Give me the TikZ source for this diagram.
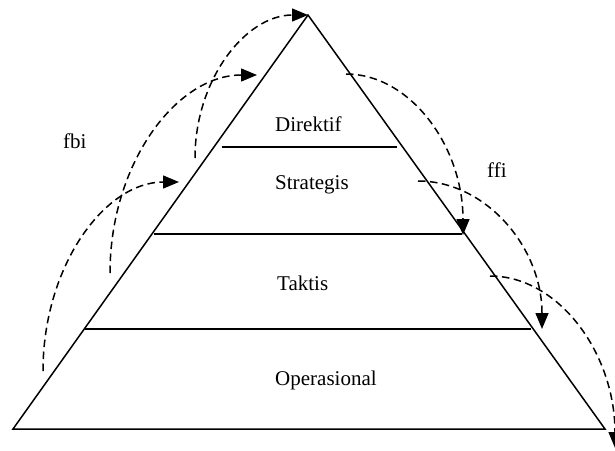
\documentclass[tikz,border=0pt]{standalone}
\usepackage{fontspec}
\setmainfont{Liberation Serif}
\usetikzlibrary{arrows.meta,calc}
\begin{document}
\begin{tikzpicture}[x=1pt,y=-1pt,
  edge/.style={line width=1.5pt, line join=miter},
  layer/.style={line width=1.5pt},
  flow/.style={line width=1.5pt, dash pattern=on 7.5pt off 4.5pt,
    -{Triangle[length=16pt,width=13pt]}},
  lbl/.style={font=\fontsize{21}{25}\selectfont, inner sep=0pt, anchor=base west}]
\clip (0,0) rectangle (615,450);

% pyramid outline
\coordinate (apex) at (308,15);
\coordinate (bl) at (13,429);
\coordinate (br) at (605,429);
\draw[edge] (apex) -- (br) -- (bl) -- cycle;

% layer boundaries
\coordinate (d1) at (222,147); \coordinate (d2) at (397,147);
\coordinate (s1) at (154,234); \coordinate (s2) at (462,234);
\coordinate (t1) at (85,329);  \coordinate (t2) at (531,329);
\draw[layer] (d1) -- (d2);
\draw[layer] (s1) -- (s2);
\draw[layer] (t1) -- (t2);

% layer names
\node[lbl] (dir) at (275,131) {Direktif};
\node[lbl] (str) at (275,189) {Strategis};
\node[lbl] (tak) at (277,290) {Taktis};
\node[lbl] (ope) at (275,385) {Operasional};
\node[lbl] (fbi) at (63,148) {fbi};
\node[lbl] (ffi) at (487,177) {ffi};

% upward flows (vertical start, horizontal end)
\coordinate (a1) at (43,371);  \coordinate (b1) at (179,182);
\coordinate (a2) at (110,273); \coordinate (b2) at (257,75);
\coordinate (a3) at (195,158); \coordinate (b3) at (308,15);
\foreach \i in {1,2,3}{
  \coordinate (c\i) at (a\i |- b\i);
  \draw[flow] (a\i) .. controls ($(a\i)!0.55!(c\i)$) and ($(b\i)!0.55!(c\i)$) .. (b\i);
}

% downward flows (horizontal start, vertical end)
\coordinate (p1) at (346,74);  \coordinate (q1) at (463,235);
\coordinate (p2) at (418,181); \coordinate (q2) at (542,329);
\coordinate (p3) at (490,276); \coordinate (q3) at (615,448);
\foreach \i in {1,2,3}{
  \coordinate (r\i) at (q\i |- p\i);
  \draw[flow] (p\i) .. controls ($(p\i)!0.55!(r\i)$) and ($(q\i)!0.55!(r\i)$) .. (q\i);
}
\end{tikzpicture}
\end{document}
